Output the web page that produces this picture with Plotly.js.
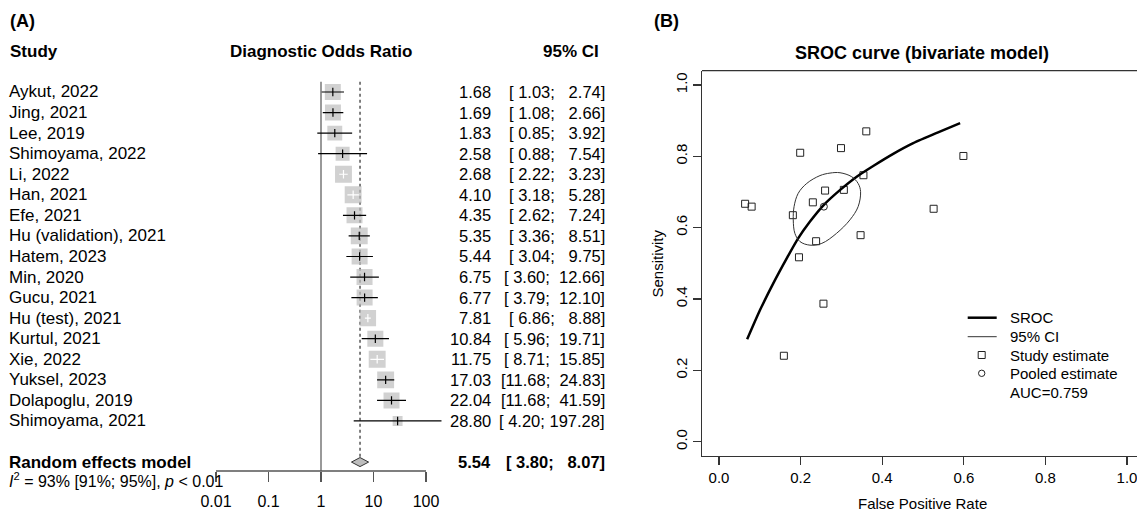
<!DOCTYPE html>
<html><head><meta charset="utf-8">
<script src="https://cdn.plot.ly/plotly-3.0.1.min.js"></script>
<style>html,body{margin:0;padding:0;background:#fff;}#chart{width:1137px;height:511px;}</style>
</head><body><div id="chart"></div>
<script>
// ---------- Data: forest plot (A) ----------
const studies = ["Aykut, 2022","Jing, 2021","Lee, 2019","Shimoyama, 2022","Li, 2022","Han, 2021","Efe, 2021",
  "Hu (validation), 2021","Hatem, 2023","Min, 2020","Gucu, 2021","Hu (test), 2021","Kurtul, 2021","Xie, 2022",
  "Yuksel, 2023","Dolapoglu, 2019","Shimoyama, 2021"];
const orValues = [1.68,1.69,1.83,2.58,2.68,4.10,4.35,5.35,5.44,6.75,6.77,7.81,10.84,11.75,17.03,22.04,28.80];
const ciLower  = [1.03,1.08,0.85,0.88,2.22,3.18,2.62,3.36,3.04,3.60,3.79,6.86,5.96,8.71,11.68,11.68,4.20];
const ciUpper  = [2.74,2.66,3.92,7.54,3.23,5.28,7.24,8.51,9.75,12.66,12.10,8.88,19.71,15.85,24.83,41.59,197.28];
const weights  = [6.0,6.0,5.2,4.6,6.7,6.7,6.0,6.7,6.0,6.0,6.0,6.3,6.0,6.7,6.7,6.0,2.3];
const pooledLabel = "Random effects model";
const pooledOR = 5.54, pooledLower = 3.80, pooledUpper = 8.07;
const heterogeneity = "<i>I</i><sup>2</sup> = 93% [91%; 95%], <i>p</i> &lt; 0.01";
const forestTicks = [0.01, 0.1, 1, 10, 100];

// ---------- Data: SROC (B) ----------
const studyFpr  = [0.064,0.080,0.199,0.299,0.361,0.599,0.354,0.306,0.260,0.230,0.181,0.526,0.238,0.347,0.196,0.256,0.159];
const studySens = [0.667,0.659,0.810,0.823,0.870,0.801,0.747,0.706,0.704,0.671,0.635,0.653,0.562,0.579,0.517,0.387,0.241];
const pooledFpr = [0.257], pooledSens = [0.659];
const srocFpr  = [0.069,0.1005,0.133,0.166,0.194,0.223,0.257,0.297,0.3375,0.378,0.427,0.476,0.534,0.591];
const srocSens = [0.287,0.369,0.444,0.514,0.570,0.617,0.664,0.706,0.743,0.773,0.807,0.837,0.866,0.893];
const ellFpr  = [0.2966,0.325,0.341,0.347,0.341,0.321,0.288,0.252,0.223,0.1985,0.186,0.182,0.184,0.194,0.215,0.2475,0.272,0.2966];
const ellSens = [0.754,0.743,0.724,0.701,0.659,0.622,0.584,0.556,0.551,0.561,0.584,0.622,0.659,0.696,0.724,0.746,0.753,0.754];
const srocTicks = [0, 0.2, 0.4, 0.6, 0.8, 1.0];
const legendLabels = ["SROC", "95% CI", "Study estimate", "Pooled estimate", "AUC=0.759"];

// ---------- Layout helpers ----------
const W = 1137, H = 511;
const px = p => p / W, py = p => (H - p) / H;
const FONT = "Liberation Sans, Arial, Helvetica, sans-serif";
const nbsp = s => s.replace(/ /g, "\u00A0");
const pad = (s, n) => s.padStart(n, " ");
const ciText = (lo, hi) => nbsp("[" + pad(lo.toFixed(2), 5) + "; " + pad(hi.toFixed(2), 6) + "]");

const rows = studies.map((_, i) => i);
const pooledRow = studies.length + 1;
const rowTop = -1.5, rowBottom = 18.434;
const pxPerDecade = 52.5;
const sizes = weights.map(w => 16 * Math.sqrt(w / 6.0));
const inside = rows.map(i => (Math.log10(ciUpper[i]) - Math.log10(ciLower[i])) * pxPerDecade < sizes[i]);

function segs(filter) {
  const x = [], y = [];
  rows.forEach(i => { if (filter(i)) { x.push(ciLower[i], ciUpper[i], null); y.push(i, i, null); } });
  return {x, y};
}
const blackSeg = segs(i => !inside[i]);
const whiteSeg = segs(i => inside[i]);
const dh = 0.22;

const data = [
  {x:[1,1], y:[-0.5, rowBottom], mode:'lines', line:{color:'#777', width:1.5}, xaxis:'x', yaxis:'y'},
  {x:[pooledOR,pooledOR], y:[-0.5, pooledRow - dh], mode:'lines', line:{color:'#555', width:1.5, dash:'dot'}, xaxis:'x', yaxis:'y'},
  {x:orValues, y:rows, mode:'markers', marker:{symbol:'square', size:sizes, color:'#bdbdbd', line:{width:0}}, xaxis:'x', yaxis:'y'},
  {x:blackSeg.x, y:blackSeg.y, mode:'lines', line:{color:'#000', width:1.2}, xaxis:'x', yaxis:'y'},
  {x:whiteSeg.x, y:whiteSeg.y, mode:'lines', line:{color:'#fff', width:1.2}, xaxis:'x', yaxis:'y'},
  {x:orValues, y:rows, mode:'markers', marker:{symbol:'line-ns-open', size:6, color:rows.map(i => inside[i] ? '#fff' : '#000'), line:{width:1.2}}, xaxis:'x', yaxis:'y'},
  {x:[pooledLower, pooledOR, pooledUpper, pooledOR, pooledLower], y:[pooledRow, pooledRow - dh, pooledRow, pooledRow + dh, pooledRow],
   mode:'lines', fill:'toself', fillcolor:'#bdbdbd', line:{color:'#333', width:1}, xaxis:'x', yaxis:'y'},
  // SROC
  {x:studyFpr, y:studySens, mode:'markers', marker:{symbol:'square-open', size:7, color:'#222', line:{width:1}}, xaxis:'x2', yaxis:'y2', cliponaxis:false},
  {x:srocFpr, y:srocSens, mode:'lines', line:{color:'#000', width:2.5, shape:'spline', smoothing:0.6}, xaxis:'x2', yaxis:'y2'},
  {x:ellFpr, y:ellSens, mode:'lines', line:{color:'#333', width:1, shape:'spline', smoothing:1}, xaxis:'x2', yaxis:'y2'},
  {x:pooledFpr, y:pooledSens, mode:'markers', marker:{symbol:'circle-open', size:7, color:'#222', line:{width:1}}, xaxis:'x2', yaxis:'y2'}
];

const ann = [];
function A(o) { ann.push(Object.assign({showarrow:false, xref:'paper', yref:'paper', font:{family:FONT, size:17, color:'#000'}}, o)); }
A({x:px(8), y:py(21), xanchor:'left', yanchor:'middle', text:'<b>(A)</b>', font:{family:FONT, size:18, color:'#000'}});
A({x:px(652), y:py(21), xanchor:'left', yanchor:'middle', text:'<b>(B)</b>', font:{family:FONT, size:18, color:'#000'}});
A({x:px(8), y:py(51), xanchor:'left', yanchor:'middle', text:'<b>Study</b>'});
A({x:px(321), y:py(51), xanchor:'center', yanchor:'middle', text:'<b>Diagnostic Odds Ratio</b>'});
A({x:px(601), y:py(51), xanchor:'right', yanchor:'middle', text:'<b>95% CI</b>'});
rows.forEach(i => {
  A({x:px(7), yref:'y', y:i, xanchor:'left', yanchor:'middle', text:studies[i]});
  A({x:px(493), yref:'y', y:i, xanchor:'right', yanchor:'middle', text:orValues[i].toFixed(2), font:{family:FONT, size:16.5, color:'#000'}});
  A({x:px(607), yref:'y', y:i, xanchor:'right', yanchor:'middle', text:ciText(ciLower[i], ciUpper[i]), font:{family:FONT, size:16.5, color:'#000'}});
});
A({x:px(7), yref:'y', y:pooledRow, xanchor:'left', yanchor:'middle', text:'<b>' + pooledLabel + '</b>'});
A({x:px(493), yref:'y', y:pooledRow, xanchor:'right', yanchor:'middle', text:'<b>' + pooledOR.toFixed(2) + '</b>', font:{family:FONT, size:16.5, color:'#000'}});
A({x:px(607), yref:'y', y:pooledRow, xanchor:'right', yanchor:'middle', text:'<b>' + ciText(pooledLower, pooledUpper) + '</b>', font:{family:FONT, size:16.5, color:'#000'}});
A({x:px(7), y:py(480), xanchor:'left', yanchor:'middle', text:heterogeneity, font:{family:FONT, size:16, color:'#000'}});
// SROC texts
A({x:px(922.5), y:py(53), xanchor:'center', yanchor:'middle', text:'<b>SROC curve (bivariate model)</b>', font:{family:FONT, size:18, color:'#000'}});
A({x:px(922.5), y:py(503), xanchor:'center', yanchor:'middle', text:'False Positive Rate', font:{family:FONT, size:15, color:'#000'}});
A({x:px(657), y:py(263.5), xanchor:'center', yanchor:'middle', textangle:-90, text:'Sensitivity', font:{family:FONT, size:15, color:'#000'}});
const legY = [317.7, 336.7, 355, 373.3, 392.7];
legendLabels.forEach((t, k) => A({x:px(1008), y:py(legY[k]), xanchor:'left', yanchor:'middle', text:t, font:{family:FONT, size:15, color:'#000'}}));

const shapes = [
  {type:'line', xref:'x', yref:'y domain', x0:forestTicks[0], x1:forestTicks[forestTicks.length-1], y0:0, y1:0, line:{color:'#555', width:1.3}},
  {type:'line', xref:'x2 domain', yref:'y2 domain', x0:0, x1:1, y0:1, y1:1, line:{color:'#333', width:1.3}},
  {type:'line', xref:'paper', yref:'paper', x0:px(967.7), x1:px(996.7), y0:py(legY[0]), y1:py(legY[0]), line:{color:'#000', width:2.5}},
  {type:'line', xref:'paper', yref:'paper', x0:px(967.7), x1:px(996.7), y0:py(legY[1]), y1:py(legY[1]), line:{color:'#333', width:1}},
  {type:'rect', xref:'paper', yref:'paper', x0:px(978.2), x1:px(985.2), y0:py(legY[2]-3.5), y1:py(legY[2]+3.5), line:{color:'#222', width:1}},
  {type:'circle', xref:'paper', yref:'paper', x0:px(978.5), x1:px(984.9), y0:py(legY[3]-3.2), y1:py(legY[3]+3.2), line:{color:'#222', width:1}}
];

const axCommon = {showgrid:false, zeroline:false, fixedrange:true};
const layout = {
  width:W, height:H, margin:{l:0, r:0, t:0, b:0}, paper_bgcolor:'#fff', plot_bgcolor:'rgba(0,0,0,0)',
  showlegend:false, hovermode:false, font:{family:FONT, color:'#000'},
  xaxis:Object.assign({}, axCommon, {type:'log', anchor:'y', domain:[px(179.25), px(462.75)], range:[-2.7, 2.7],
    tickvals:forestTicks, ticktext:forestTicks.map(String), ticks:'outside', ticklen:10, tickwidth:1.3, tickcolor:'#555',
    showline:false, tickfont:{family:FONT, size:16, color:'#000'}, ticklabelstandoff:6}),
  yaxis:Object.assign({}, axCommon, {anchor:'x', domain:[py(471), py(61.16)], range:[rowBottom, rowTop],
    showticklabels:false, ticks:'', showline:false}),
  xaxis2:Object.assign({}, axCommon, {anchor:'y2', domain:[px(702), 1], range:[-0.04167, 1.02451],
    tickvals:srocTicks, tickformat:'.1f', ticks:'outside', ticklen:8, tickwidth:1.3, tickcolor:'#333', ticklabeloverflow:'allow',
    showline:true, linecolor:'#333', linewidth:1.3, tickfont:{family:FONT, size:15, color:'#000'}}),
  yaxis2:Object.assign({}, axCommon, {anchor:'x2', domain:[py(456), py(70.7)], range:[-0.04, 1.04],
    tickvals:srocTicks, tickformat:'.1f', ticks:'outside', ticklen:8, tickwidth:1.3, tickcolor:'#333', tickangle:-90,
    showline:true, linecolor:'#333', linewidth:1.3, tickfont:{family:FONT, size:15, color:'#000'}}),
  annotations:ann, shapes:shapes
};
Plotly.newPlot('chart', data, layout, {staticPlot:true, displayModeBar:false});
</script>
</body></html>
